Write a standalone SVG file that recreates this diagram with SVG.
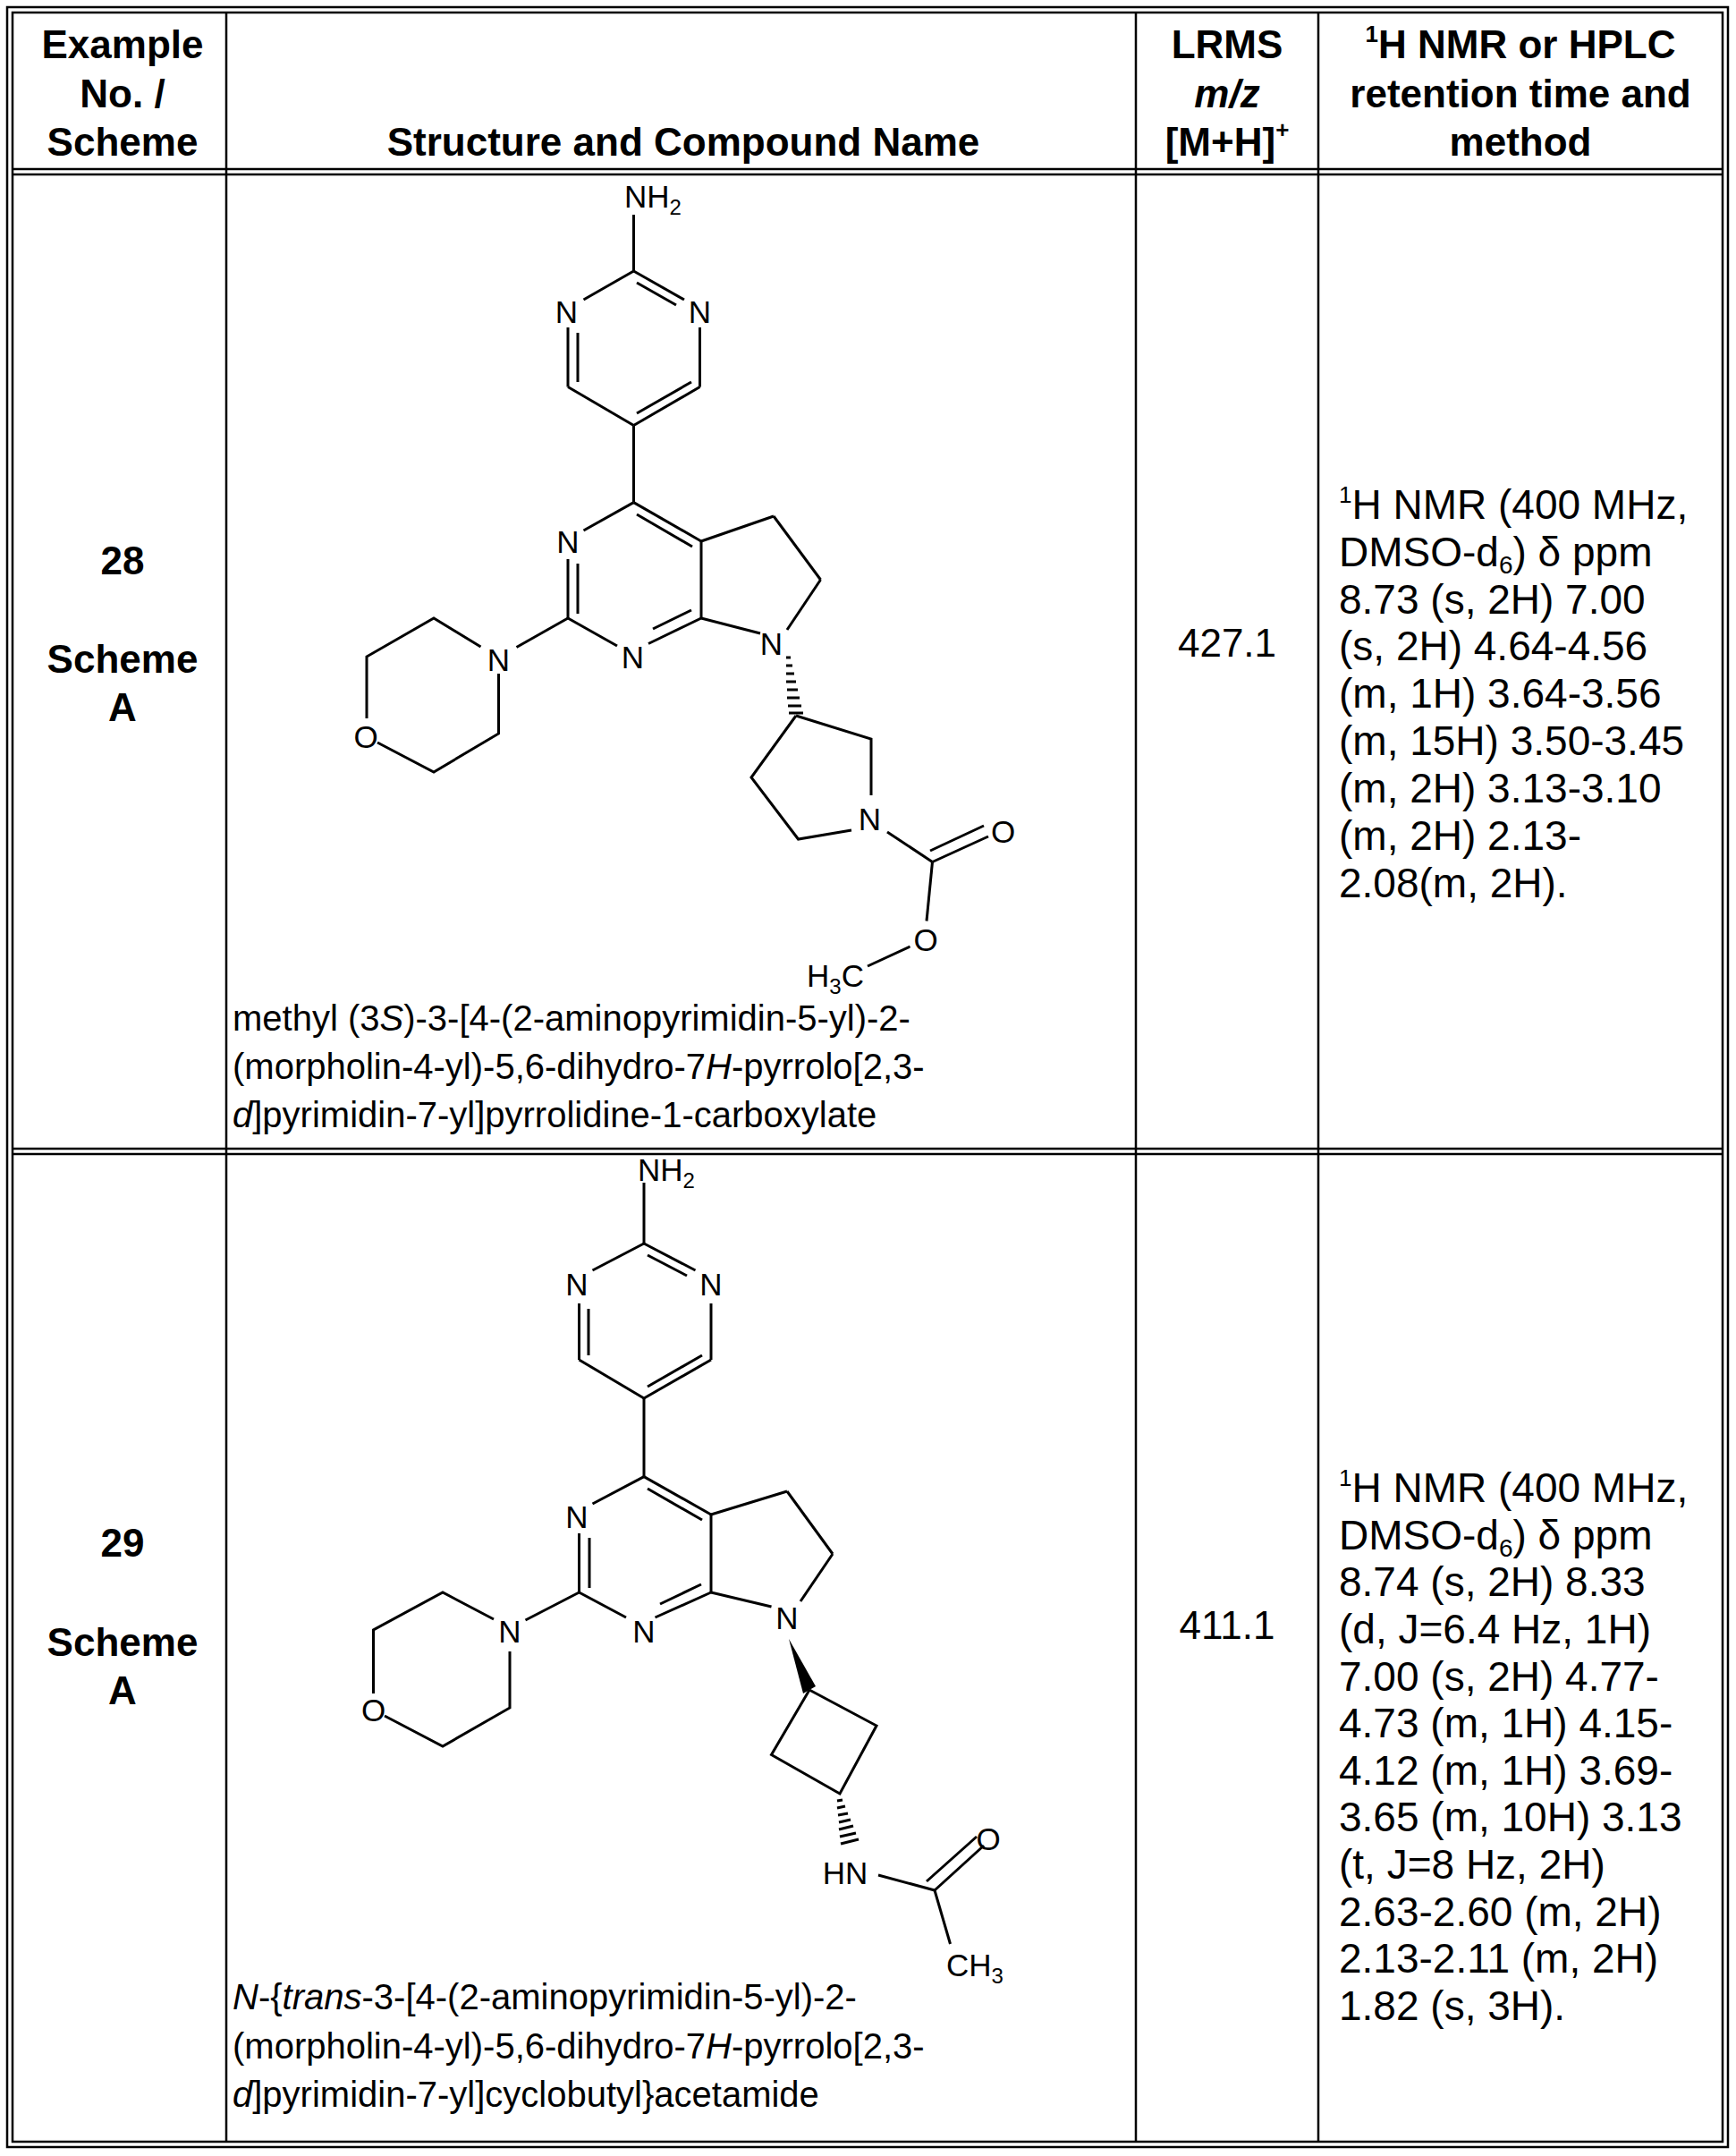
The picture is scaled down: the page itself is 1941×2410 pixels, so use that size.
<svg xmlns="http://www.w3.org/2000/svg" width="1941" height="2410" viewBox="0 0 1941 2410">
<style>
.t{font-family:"Liberation Sans",Arial,sans-serif;font-size:44px;fill:#000}
.n{font-size:40px}
.s{font-size:46px}
.b{font-weight:bold}
.m{text-anchor:middle}
.a{font-family:"Liberation Sans",Arial,sans-serif;font-size:35px;fill:#000;text-anchor:middle}
.g line,.g polyline{stroke:#000;stroke-width:3;fill:none}
.tb{stroke:#000;stroke-width:2.5;fill:none}
</style>
<rect width="1941" height="2410" fill="#fff"/>
<g id="table">
<rect class="tb" x="8" y="8" width="1924" height="2392"/>
<rect class="tb" x="14" y="14" width="1912" height="2380"/>
<line class="tb" x1="14" y1="189" x2="1926" y2="189"/>
<line class="tb" x1="14" y1="195" x2="1926" y2="195"/>
<line class="tb" x1="14" y1="1284" x2="1926" y2="1284"/>
<line class="tb" x1="14" y1="1290" x2="1926" y2="1290"/>
<line class="tb" x1="253" y1="14" x2="253" y2="2394"/>
<line class="tb" x1="1270" y1="14" x2="1270" y2="2394"/>
<line class="tb" x1="1474" y1="14" x2="1474" y2="2394"/>
</g>
<g id="header">
<text class="t b m" x="137" y="65">Example</text>
<text class="t b m" x="137" y="120">No. /</text>
<text class="t b m" x="137" y="174">Scheme</text>
<text class="t b m" x="764" y="174">Structure and Compound Name</text>
<text class="t b m" x="1372" y="65">LRMS</text>
<text class="t b m" x="1372" y="120" font-style="italic">m/z</text>
<text class="t b m" x="1372" y="174">[M+H]<tspan font-size="26" dy="-20">+</tspan></text>
<text class="t b m" x="1700" y="65"><tspan font-size="26" dy="-18">1</tspan><tspan dy="18">H NMR or HPLC</tspan></text>
<text class="t b m" x="1700" y="120">retention time and</text>
<text class="t b m" x="1700" y="174">method</text>
</g>
<g id="row28">
<text class="t b m" x="137" y="642">28</text>
<text class="t b m" x="137" y="752">Scheme</text>
<text class="t b m" x="137" y="806">A</text>
<text class="t m" x="1372" y="734">427.1</text>
<g class="t s">
<text x="1497" y="580"><tspan font-size="26" dy="-18">1</tspan><tspan dy="18">H NMR (400 MHz,</tspan></text>
<text x="1497" y="633">DMSO-d<tspan font-size="28" dy="8">6</tspan><tspan dy="-8">) δ ppm</tspan></text>
<text x="1497" y="686">8.73 (s, 2H) 7.00</text>
<text x="1497" y="738">(s, 2H) 4.64-4.56</text>
<text x="1497" y="791">(m, 1H) 3.64-3.56</text>
<text x="1497" y="844">(m, 15H) 3.50-3.45</text>
<text x="1497" y="897">(m, 2H) 3.13-3.10</text>
<text x="1497" y="950">(m, 2H) 2.13-</text>
<text x="1497" y="1003">2.08(m, 2H).</text>
</g>
<g class="t n">
<text x="260" y="1152">methyl (3<tspan font-style="italic">S</tspan>)-3-[4-(2-aminopyrimidin-5-yl)-2-</text>
<text x="260" y="1206">(morpholin-4-yl)-5,6-dihydro-7<tspan font-style="italic">H</tspan>-pyrrolo[2,3-</text>
<text x="260" y="1260"><tspan font-style="italic">d</tspan>]pyrimidin-7-yl]pyrrolidine-1-carboxylate</text>
</g>
</g>
<g id="mol28" class="g">
<line x1="708.5" y1="240" x2="708.5" y2="303"/>
<line x1="708.5" y1="303" x2="765" y2="335"/>
<line x1="712" y1="316" x2="756" y2="341"/>
<line x1="708.5" y1="303" x2="652.5" y2="335"/>
<line x1="635" y1="366" x2="635" y2="432.5"/>
<line x1="646" y1="372" x2="646" y2="427"/>
<line x1="782.5" y1="366" x2="782.5" y2="432.5"/>
<line x1="635" y1="432.5" x2="708.5" y2="475.5"/>
<line x1="708.5" y1="475.5" x2="782.5" y2="432.5"/>
<line x1="712" y1="462" x2="773" y2="427"/>
<line x1="708.5" y1="475.5" x2="708.5" y2="561.6"/>
<line x1="708.5" y1="561.6" x2="652.5" y2="593"/>
<line x1="708.5" y1="561.6" x2="784" y2="605"/>
<line x1="712" y1="575" x2="774" y2="611"/>
<line x1="784" y1="605" x2="865" y2="577"/>
<line x1="865" y1="577" x2="917.5" y2="648"/>
<line x1="917.5" y1="648" x2="880" y2="704"/>
<line x1="784" y1="605" x2="784" y2="691"/>
<line x1="784" y1="691" x2="850" y2="708"/>
<line x1="784" y1="691" x2="725" y2="719.5"/>
<line x1="773" y1="682" x2="730" y2="703"/>
<line x1="635" y1="625" x2="635" y2="691"/>
<line x1="646" y1="630" x2="646" y2="686"/>
<line x1="635" y1="691" x2="690" y2="722"/>
<line x1="635" y1="691" x2="577.5" y2="723.5"/>
<polyline points="537.5,723 485,691 410,734 410,803"/>
<polyline points="422,830 485,863 557.5,820 557.5,753"/>
<g stroke-width="2.5">
<line x1="879" y1="735" x2="884" y2="735"/>
<line x1="879" y1="744" x2="886" y2="744"/>
<line x1="879" y1="753" x2="888" y2="753"/>
<line x1="879" y1="762" x2="890" y2="762"/>
<line x1="880" y1="771" x2="892" y2="771"/>
<line x1="880" y1="780" x2="894" y2="780"/>
<line x1="881" y1="789" x2="896" y2="789"/>
<line x1="882" y1="797" x2="898" y2="797"/>
</g>
<polyline points="890,800 974,826 974,889"/>
<polyline points="952,928 892.5,938 840,869 890,800"/>
<line x1="992" y1="930" x2="1042.5" y2="963.5"/>
<line x1="1042.5" y1="963.5" x2="1105" y2="935"/>
<line x1="1040" y1="951" x2="1100" y2="923"/>
<line x1="1042.5" y1="963.5" x2="1036" y2="1029.5"/>
<line x1="1017.5" y1="1058" x2="970" y2="1080"/>
<text class="a" x="730" y="232" stroke="none">NH<tspan font-size="24" dy="8">2</tspan></text>
<text class="a" x="633.5" y="361" stroke="none">N</text>
<text class="a" x="782.5" y="361" stroke="none">N</text>
<text class="a" x="635" y="618" stroke="none">N</text>
<text class="a" x="707.5" y="747" stroke="none">N</text>
<text class="a" x="862.5" y="732" stroke="none">N</text>
<text class="a" x="557.5" y="750" stroke="none">N</text>
<text class="a" x="409" y="836" stroke="none">O</text>
<text class="a" x="972.5" y="928" stroke="none">N</text>
<text class="a" x="1121.5" y="942" stroke="none">O</text>
<text class="a" x="1035" y="1063" stroke="none">O</text>
<text class="a" x="934" y="1103" stroke="none">H<tspan font-size="24" dy="8">3</tspan><tspan dy="-8">C</tspan></text>
</g>
<g id="row29">
<text class="t b m" x="137" y="1740">29</text>
<text class="t b m" x="137" y="1851">Scheme</text>
<text class="t b m" x="137" y="1905">A</text>
<text class="t m" x="1372" y="1832">411.1</text>
<g class="t s">
<text x="1497" y="1679"><tspan font-size="26" dy="-18">1</tspan><tspan dy="18">H NMR (400 MHz,</tspan></text>
<text x="1497" y="1732">DMSO-d<tspan font-size="28" dy="8">6</tspan><tspan dy="-8">) δ ppm</tspan></text>
<text x="1497" y="1784">8.74 (s, 2H) 8.33</text>
<text x="1497" y="1837">(d, J=6.4 Hz, 1H)</text>
<text x="1497" y="1890">7.00 (s, 2H) 4.77-</text>
<text x="1497" y="1942">4.73 (m, 1H) 4.15-</text>
<text x="1497" y="1995">4.12 (m, 1H) 3.69-</text>
<text x="1497" y="2047">3.65 (m, 10H) 3.13</text>
<text x="1497" y="2100">(t, J=8 Hz, 2H)</text>
<text x="1497" y="2153">2.63-2.60 (m, 2H)</text>
<text x="1497" y="2205">2.13-2.11 (m, 2H)</text>
<text x="1497" y="2258">1.82 (s, 3H).</text>
</g>
<g class="t n">
<text x="260" y="2246"><tspan font-style="italic">N</tspan>-{<tspan font-style="italic">trans</tspan>-3-[4-(2-aminopyrimidin-5-yl)-2-</text>
<text x="260" y="2301">(morpholin-4-yl)-5,6-dihydro-7<tspan font-style="italic">H</tspan>-pyrrolo[2,3-</text>
<text x="260" y="2355"><tspan font-style="italic">d</tspan>]pyrimidin-7-yl]cyclobutyl}acetamide</text>
</g>
</g>
<g id="mol29" class="g">
<line x1="720" y1="1322" x2="720" y2="1390"/>
<line x1="720" y1="1390" x2="777.5" y2="1420"/>
<line x1="724" y1="1403" x2="768" y2="1426"/>
<line x1="720" y1="1390" x2="662.5" y2="1420"/>
<line x1="647.5" y1="1457" x2="647.5" y2="1520"/>
<line x1="658" y1="1463" x2="658" y2="1515"/>
<line x1="795" y1="1457" x2="795" y2="1520"/>
<line x1="647.5" y1="1520" x2="720" y2="1563"/>
<line x1="720" y1="1563" x2="795" y2="1520"/>
<line x1="724" y1="1550" x2="785" y2="1515"/>
<line x1="720" y1="1563" x2="720" y2="1650.6"/>
<line x1="720" y1="1650.6" x2="662.5" y2="1681"/>
<line x1="720" y1="1650.6" x2="795" y2="1693"/>
<line x1="724" y1="1664" x2="785" y2="1699"/>
<line x1="795" y1="1693" x2="880" y2="1667"/>
<line x1="880" y1="1667" x2="931" y2="1737"/>
<line x1="931" y1="1737" x2="895" y2="1790"/>
<line x1="795" y1="1693" x2="795" y2="1780"/>
<line x1="795" y1="1780" x2="862.5" y2="1796"/>
<line x1="795" y1="1780" x2="732.5" y2="1808"/>
<line x1="784" y1="1771" x2="738" y2="1793"/>
<line x1="647.5" y1="1714" x2="647.5" y2="1780"/>
<line x1="659" y1="1719" x2="659" y2="1775"/>
<line x1="647.5" y1="1780" x2="700" y2="1808"/>
<line x1="647.5" y1="1780" x2="587.5" y2="1811"/>
<polyline points="552,1810 495,1780 417.5,1822 417.5,1893"/>
<polyline points="430,1918 495,1952 570,1909 570,1846"/>
<polygon points="882,1832 898,1893 912,1885" fill="#000" stroke="none"/>
<polyline points="905,1889 980,1929 939,2005 862.5,1961.5 905,1889"/>
<g stroke-width="2.5">
<line x1="936" y1="2013" x2="942" y2="2012"/>
<line x1="936" y1="2021" x2="945" y2="2019"/>
<line x1="937" y1="2029" x2="948" y2="2027"/>
<line x1="938" y1="2037" x2="951" y2="2034"/>
<line x1="938" y1="2045" x2="954" y2="2041"/>
<line x1="939" y1="2053" x2="957" y2="2049"/>
<line x1="940" y1="2061" x2="960" y2="2056"/>
</g>
<line x1="982" y1="2096" x2="1045" y2="2113"/>
<line x1="1045" y1="2113" x2="1100" y2="2063"/>
<line x1="1036" y1="2103" x2="1092" y2="2053"/>
<line x1="1045" y1="2113" x2="1062.5" y2="2173"/>
<text class="a" x="745" y="1320" stroke="none">NH<tspan font-size="24" dy="8">2</tspan></text>
<text class="a" x="645" y="1448" stroke="none">N</text>
<text class="a" x="795" y="1448" stroke="none">N</text>
<text class="a" x="645" y="1708" stroke="none">N</text>
<text class="a" x="720" y="1836" stroke="none">N</text>
<text class="a" x="880" y="1821" stroke="none">N</text>
<text class="a" x="570" y="1836" stroke="none">N</text>
<text class="a" x="417.5" y="1924" stroke="none">O</text>
<text class="a" x="945" y="2106" stroke="none">HN</text>
<text class="a" x="1105" y="2068" stroke="none">O</text>
<text class="a" x="1090" y="2209" stroke="none">CH<tspan font-size="24" dy="8">3</tspan></text>
</g>
</svg>
